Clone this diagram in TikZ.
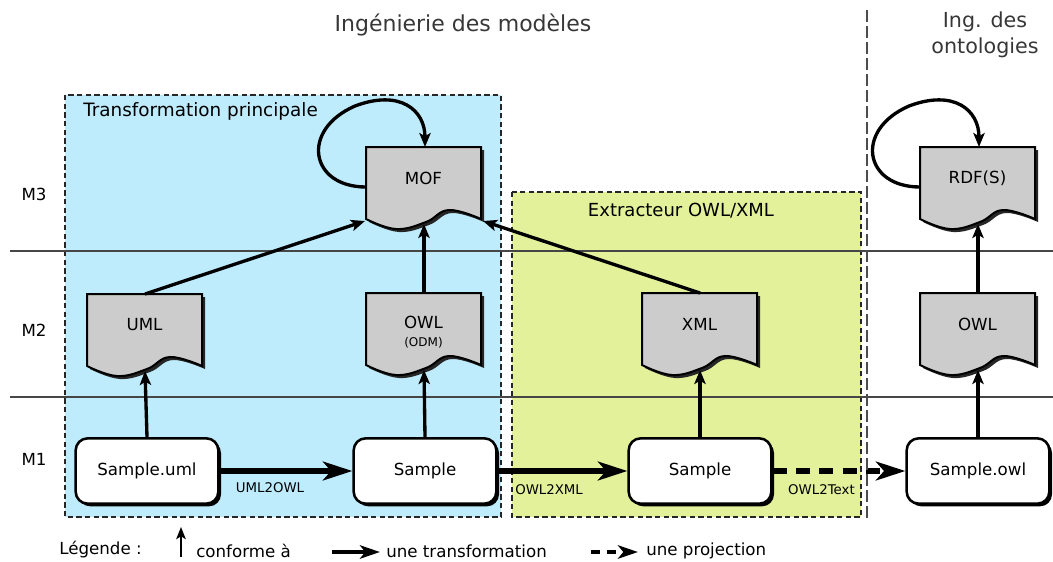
\documentclass[tikz,border=0pt]{standalone}
\usepackage{fontspec}
\setmainfont{DejaVu Sans}
\usetikzlibrary{arrows.meta,shadows,calc}
\definecolor{bluebg}{RGB}{191,236,253}
\definecolor{greenbg}{RGB}{227,241,155}
\definecolor{docgray}{RGB}{204,204,204}
\definecolor{titlegray}{RGB}{55,55,55}
\definecolor{linegray}{RGB}{70,70,70}

\tikzset{
  lbl/.style={font=\fontsize{12.5}{14}\selectfont, inner sep=0pt},
  smalllbl/.style={font=\fontsize{10}{12}\selectfont, inner sep=0pt},
  titlelbl/.style={font=\fontsize{16.5}{19.5}\selectfont, text=titlegray, inner sep=0pt},
  region/.style={draw=black!85, line width=0.8pt, dash pattern=on 4pt off 2.5pt},
  conf/.style={line width=2.5pt, -{Stealth[length=10.5pt,width=8.5pt,inset=2.5pt]}},
  trans/.style={line width=4.8pt, -{Stealth[length=22pt,width=14pt,inset=6pt]}},
  proj/.style={trans, dash pattern=on 10.5pt off 7pt},
  m1box/.style={draw, line width=1.9pt, fill=white, rounded corners=9pt,
    minimum width=107pt, minimum height=49pt, font=\fontsize{12.5}{14}\selectfont,
    drop shadow={shadow xshift=2pt, shadow yshift=-2pt, fill=black, opacity=1}},
  docline/.style={draw=black, line width=1.5pt, fill=docgray},
}

% name, x0, y0, text, text y offset
\newcommand\DocShape[5]{%
  \fill[black!85, shift={(3,3)}] (#2,#3) -- ({#2+115},#3) --
     plot[smooth,tension=0.7] coordinates {({#2+115},{#3+72}) ({#2+83},{#3+63}) ({#2+60},{#3+75}) ({#2+30},{#3+82}) (#2,{#3+72})} -- cycle;
  \path[docline] (#2,#3) -- ({#2+115},#3) --
     plot[smooth,tension=0.7] coordinates {({#2+115},{#3+72}) ({#2+83},{#3+63}) ({#2+60},{#3+75}) ({#2+30},{#3+82}) (#2,{#3+72})} -- cycle;
  \node[lbl, align=center] (#1) at ({#2+57.5},{#3+#5}) {#4};
  \coordinate (#1-top) at ({#2+58},#3);
  \coordinate (#1-bot) at ({#2+58},{#3+77});
  \coordinate (#1-bl) at ({#2-1},{#3+74});
  \coordinate (#1-br) at ({#2+117},{#3+74});
  \coordinate (#1-west) at (#2,{#3+40});
  \coordinate (#1-loop) at ({#2-11},{#3-41});
  \coordinate (#1-in) at ({#2+59},{#3});
}

\begin{document}
\begin{tikzpicture}[x=0.75pt,y=-0.75pt]
\useasboundingbox (0,0) rectangle (1053,561);

% regions
\path[region, fill=bluebg] (65,95) rectangle (501,517);
\path[region, fill=greenbg] (512,192) rectangle (861,517);

% level separators
\draw[linegray, line width=0.9pt] (10,251) -- (1053,251);
\draw[linegray, line width=0.9pt] (10,397) -- (1053,397);

% titles
\node[titlelbl] (title1) at (463,25) {Ingénierie des modèles};
\node[titlelbl, align=center, font=\fontsize{15.5}{19.5}\selectfont] (title2) at (985,35) {Ing. des\\ontologies};
\node[lbl, anchor=west, font=\fontsize{13.8}{16}\selectfont] (regA) at (83,111) {Transformation principale};
\node[lbl, font=\fontsize{13.5}{16}\selectfont] (regB) at (681,211) {Extracteur OWL/XML};

% level labels
\node[lbl] (m3) at (34,194) {M3};
\node[lbl] (m2) at (34,330) {M2};
\node[lbl] (m1) at (34,459) {M1};

% documents
\DocShape{mof}{366}{147}{MOF}{31}
\DocShape{rdf}{920}{147}{RDF(S)}{31}
\DocShape{uml}{87}{294}{UML}{31}
\DocShape{owl}{366}{293}{OWL\\[-1pt]{\fontsize{9}{10}\selectfont (ODM)}}{39}
\DocShape{xml}{642}{293}{XML}{31}
\DocShape{owlb}{920}{293}{OWL}{31}

% self loops
\draw[conf] (mof-west) .. controls ($(mof-west)+(-56,0)$) and ($(mof-west)+(-66,-57)$) .. (mof-loop)
  .. controls ($(mof-loop)+(45,-17)$) and ($(mof-in)+(0,-37)$) .. (mof-in);
\draw[conf] (rdf-west) .. controls ($(rdf-west)+(-56,0)$) and ($(rdf-west)+(-66,-57)$) .. (rdf-loop)
  .. controls ($(rdf-loop)+(45,-17)$) and ($(rdf-in)+(0,-37)$) .. (rdf-in);

% M1 boxes
\node[m1box] (suml) at (147,471) {Sample.uml};
\node[m1box] (s1) at (425,471) {Sample};
\node[m1box] (s2) at (700,471) {Sample};
\node[m1box] (sowl) at (978,471) {Sample.owl};

% conformance arrows M1 -> M2
\draw[conf] (suml.north) -- (uml-bot);
\draw[conf] (s1.north) -- (owl-bot);
\draw[conf] (s2.north) -- (xml-bot);
\draw[conf] (sowl.north) -- (owlb-bot);

% conformance arrows M2 -> M3
\draw[conf] (uml-top) -- (mof-bl);
\draw[conf] (owl-top) -- (mof-bot);
\draw[conf] (xml-top) -- (mof-br);
\draw[conf] (owlb-top) -- (rdf-bot);

% transformations
\draw[trans] (suml.east) -- (s1.west);
\draw[trans] (s1.east) -- (s2.west);
\draw[proj] (s2.east) -- (sowl.west);
\node[smalllbl] (t1) at (270,488) {UML2OWL};
\node[smalllbl, anchor=west] (t2) at (515,490) {OWL2XML};
\node[smalllbl, anchor=east] (t3) at (855,490) {OWL2Text};

% ontology separator
\draw[black!70, line width=1.5pt, dash pattern=on 9pt off 3pt] (867,10) -- (867,518);

% legend
\node[lbl, anchor=west] (lg0) at (59,550) {Légende :};
\coordinate (lga1) at (181,557);
\coordinate (lga2) at (181,527);
\draw[line width=2.2pt, -{Stealth[length=9pt,width=7pt,inset=2pt]}] (lga1) -- (lga2);
\node[lbl, anchor=west] (lg1) at (196,551) {conforme à};
\coordinate (lgb1) at (332,552);
\coordinate (lgb2) at (380,552);
\draw[line width=3.5pt, -{Stealth[length=15pt,width=10pt,inset=4pt]}] (lgb1) -- (lgb2);
\node[lbl, anchor=west] (lg2) at (386,551) {une transformation};
\coordinate (lgc1) at (591,552);
\coordinate (lgc2) at (638,552);
\draw[line width=3.5pt, dash pattern=on 7pt off 5pt, -{Stealth[length=15pt,width=10pt,inset=4pt]}] (lgc1) -- (lgc2);
\node[lbl, anchor=west] (lg3) at (646,551) {une projection};
\end{tikzpicture}
\end{document}
